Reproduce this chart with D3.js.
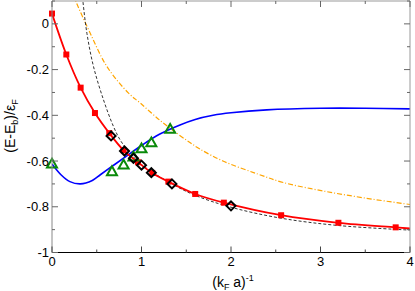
<!DOCTYPE html>
<html>
<head>
<meta charset="utf-8">
<script src="https://cdn.jsdelivr.net/npm/d3@7"></script>
<style>
   body { margin: 0; background: #fff; }
   svg { display: block; font-family: "Liberation Sans", Arial, sans-serif; }
</style>
</head>
<body>
<svg id="chart"></svg>
<script>
// red squares (solid line through them)
const sqX = [0, 0.16, 0.32, 0.48, 0.64, 0.8, 0.96, 1.12, 1.3, 1.6, 1.92, 2.56, 3.2, 3.84];
const sqY = [0.045, -0.134, -0.279, -0.39, -0.478, -0.553, -0.605, -0.652, -0.69, -0.744, -0.782, -0.837, -0.87, -0.89];
const redEnd = [4.0, -0.895];

// open diamonds
const diaX = [0.66, 0.81, 0.91, 1.0, 1.11, 1.34, 2.0];
const diaY = [-0.49, -0.556, -0.588, -0.618, -0.651, -0.70, -0.796];

// open triangles
const triX = [0, 0.67, 0.8, 0.91, 1.0, 1.11, 1.32];
const triY = [-0.613, -0.646, -0.617, -0.582, -0.546, -0.52, -0.461];

// blue solid curve
const blueX = [0, 0.1, 0.2, 0.316, 0.45, 0.54, 0.7, 0.855, 1.0, 1.2, 1.43, 1.6, 1.8, 2.0, 2.4, 3.0, 3.5, 4.0];
const blueY = [-0.613, -0.66, -0.69, -0.70, -0.685, -0.66, -0.615, -0.572, -0.532, -0.483, -0.442, -0.418, -0.40, -0.389, -0.376, -0.369, -0.369, -0.372];

// black dashed curve
const dashX = [0.33, 0.345, 0.39, 0.464, 0.576, 0.687, 0.762, 0.85, 1.0, 1.34, 1.6, 2.0, 2.56, 3.2, 4.0];
const dashY = [0.16, 0.1, -0.041, -0.187, -0.333, -0.449, -0.508, -0.555, -0.615, -0.7, -0.75, -0.802, -0.85, -0.882, -0.902];

// orange dash-dot curve
const orX = [0.24, 0.26, 0.427, 0.614, 0.855, 0.985, 1.2, 1.4, 1.545, 1.655, 1.91, 2.3, 2.585, 3.03, 3.5, 4.0];
const orY = [0.13, 0.105, -0.041, -0.187, -0.303, -0.346, -0.42, -0.48, -0.52, -0.548, -0.6, -0.657, -0.694, -0.731, -0.762, -0.79];

const xTicks = [0, 1, 2, 3, 4];
const yTicks = [-1, -0.8, -0.6, -0.4, -0.2, 0];
const yTickText = ["-1", "-0.8", "-0.6", "-0.4", "-0.2", "0"];

const W = 415, H = 291;
const pLeft = 52, pRight = 410, pTop = 1, pBottom = 252.5;

const svg = d3.select("#chart").attr("width", W).attr("height", H);

const x = d3.scaleLinear().domain([0, 4]).range([pLeft, pRight]);
const y = d3.scaleLinear().domain([-1, 0.1]).range([pBottom, pTop]);

svg.append("clipPath").attr("id", "clip")
   .append("rect")
   .attr("x", pLeft).attr("y", pTop)
   .attr("width", pRight - pLeft).attr("height", pBottom - pTop);

const plot = svg.append("g").attr("clip-path", "url(#clip)");

const zip = (xs, ys) => xs.map((v, i) => [v, ys[i]]);
const line = d3.line().x(d => x(d[0])).y(d => y(d[1])).curve(d3.curveCatmullRom);

// curves
plot.append("path")
   .attr("d", line(zip(orX, orY)))
   .attr("fill", "none").attr("stroke", "#ffa500")
   .attr("stroke-width", 1.2).attr("stroke-dasharray", "5,2,1,2");

plot.append("path")
   .attr("d", line(zip(dashX, dashY)))
   .attr("fill", "none").attr("stroke", "#333")
   .attr("stroke-width", 1).attr("stroke-dasharray", "3,2");

plot.append("path")
   .attr("d", line(zip(blueX, blueY)))
   .attr("fill", "none").attr("stroke", "#0000ff").attr("stroke-width", 1.6);

plot.append("path")
   .attr("d", line(zip(sqX, sqY).concat([redEnd])))
   .attr("fill", "none").attr("stroke", "#ff0000").attr("stroke-width", 1.8);

// markers
svg.append("g").selectAll("rect")
   .data(zip(sqX, sqY))
   .join("rect")
   .attr("x", d => x(d[0]) - 3).attr("y", d => y(d[1]) - 3)
   .attr("width", 6).attr("height", 6)
   .attr("fill", "#ff0000");

svg.append("g").selectAll("path")
   .data(zip(triX, triY))
   .join("path")
   .attr("d", d => {
      const cx = x(d[0]), cy = y(d[1]);
      return `M${cx},${cy - 5.2}L${cx + 5},${cy + 3.6}L${cx - 5},${cy + 3.6}Z`;
   })
   .attr("fill", "none").attr("stroke", "#0a8a0a").attr("stroke-width", 2);

svg.append("g").selectAll("path")
   .data(zip(diaX, diaY))
   .join("path")
   .attr("d", d => {
      const cx = x(d[0]), cy = y(d[1]);
      return `M${cx},${cy - 4.5}L${cx + 4.5},${cy}L${cx},${cy + 4.5}L${cx - 4.5},${cy}Z`;
   })
   .attr("fill", "none").attr("stroke", "#000").attr("stroke-width", 2);

// frame
const frame = svg.append("g");
frame.append("line").attr("x1", pLeft).attr("x2", pRight).attr("y1", pTop).attr("y2", pTop).attr("stroke", "#999");
frame.append("line").attr("x1", pRight).attr("x2", pRight).attr("y1", pTop).attr("y2", pBottom).attr("stroke", "#999");
frame.append("line").attr("x1", pLeft).attr("x2", pLeft).attr("y1", pTop).attr("y2", pBottom).attr("stroke", "#888");
frame.append("line").attr("x1", pLeft).attr("x2", pRight).attr("y1", pBottom).attr("y2", pBottom).attr("stroke", "#000");

// inward ticks on all four sides
const xMinor = d3.range(0, 4.01, 0.5);
const yMinor = d3.range(-1, 0.101, 0.1);
xMinor.forEach(v => {
   const len = Math.abs(v - Math.round(v)) < 1e-6 ? 6 : 3;
   frame.append("line").attr("x1", x(v)).attr("x2", x(v)).attr("y1", pBottom).attr("y2", pBottom - len).attr("stroke", "#444");
   frame.append("line").attr("x1", x(v)).attr("x2", x(v)).attr("y1", pTop).attr("y2", pTop + len).attr("stroke", "#666");
});
yMinor.forEach(v => {
   const major = Math.abs(v * 5 - Math.round(v * 5)) < 1e-6;
   const len = major ? 6 : 3;
   frame.append("line").attr("x1", pLeft).attr("x2", pLeft + len).attr("y1", y(v)).attr("y2", y(v)).attr("stroke", "#666");
   frame.append("line").attr("x1", pRight).attr("x2", pRight - len).attr("y1", y(v)).attr("y2", y(v)).attr("stroke", "#666");
});

// tick labels
svg.append("g").selectAll("text")
   .data(xTicks)
   .join("text")
   .attr("x", d => x(d)).attr("y", 266)
   .attr("text-anchor", "middle").attr("font-size", 13)
   .text(d => d);

svg.append("g").selectAll("text")
   .data(yTicks)
   .join("text")
   .attr("x", 49).attr("y", d => y(d) + 4.5)
   .attr("text-anchor", "end").attr("font-size", 13)
   .text((d, i) => yTickText[i]);

// axis titles
const xt = svg.append("text")
   .attr("x", 233).attr("y", 287)
   .attr("text-anchor", "middle").attr("font-size", 14);
xt.append("tspan").text("(k");
xt.append("tspan").attr("font-size", 9).attr("dy", 3).text("F");
xt.append("tspan").attr("dy", -3).text(" a)");
xt.append("tspan").attr("font-size", 9).attr("dy", -6).text("-1");

const yt = svg.append("text")
   .attr("transform", "translate(15,126) rotate(-90)")
   .attr("text-anchor", "middle").attr("font-size", 14);
yt.append("tspan").text("(E-E");
yt.append("tspan").attr("font-size", 9).attr("dy", 3).text("b");
yt.append("tspan").attr("dy", -3).text(")/\u03b5");
yt.append("tspan").attr("font-size", 9).attr("dy", 3).text("F");
</script>
</body>
</html>
